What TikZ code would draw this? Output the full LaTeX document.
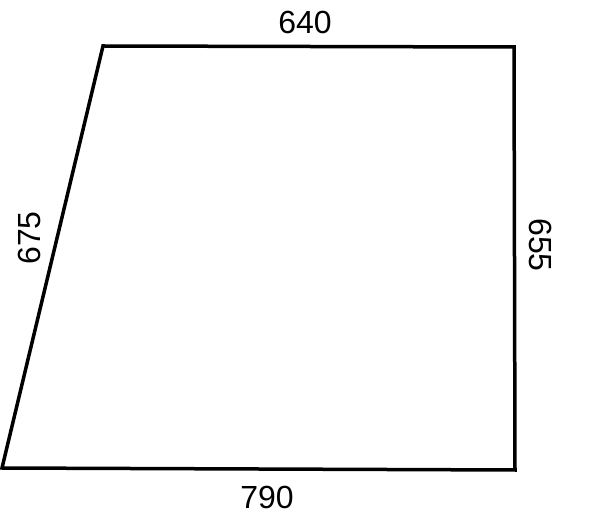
\documentclass[tikz,border=0pt]{standalone}
\usepackage{fontspec}
\setmainfont{Liberation Sans}
\usetikzlibrary{calc}
\tikzset{
  edge/.style={line width=3.5pt,line join=miter},
  dimlabel/.style={inner sep=0pt,font=\fontsize{32}{32}\selectfont}
}
\begin{document}
\begin{tikzpicture}[x=1pt,y=-1pt]
  \path[use as bounding box] (0,0) rectangle (600,526);

  \coordinate (TL) at (103,46);
  \coordinate (TR) at (514,47);
  \coordinate (BR) at (515,470);
  \coordinate (BL) at (2,468);

  \draw[edge] (TL) -- (TR) -- (BR) -- (BL) -- cycle;

  \node[dimlabel] (top) at (305,22) {640};
  \node[dimlabel,rotate=-90] (right) at (541,245) {655};
  \node[dimlabel] (bottom) at (267,497) {790};
  \node[dimlabel,rotate=90] (left) at (29,238) {675};
\end{tikzpicture}
\end{document}
